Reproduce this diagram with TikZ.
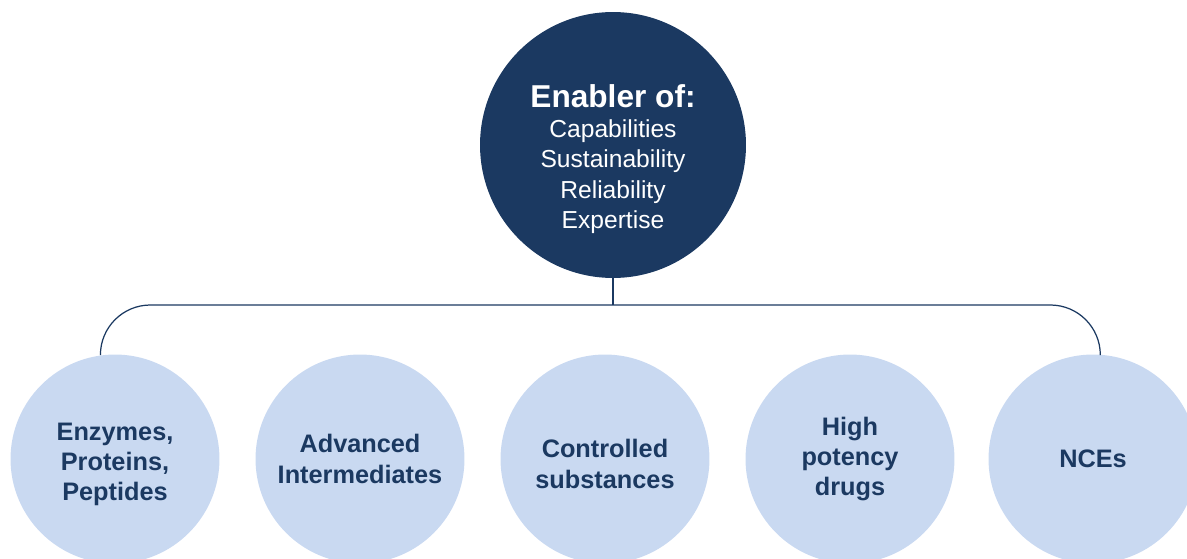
\documentclass[tikz,border=0pt]{standalone}
\usepackage{fontspec}
\setsansfont{Liberation Sans}
\definecolor{navy}{RGB}{27, 57, 97}
\definecolor{paleblue}{RGB}{201, 217, 241}
\newcommand{\toppad}[1]{\rule{0pt}{#1}}

\begin{document}
\begin{tikzpicture}[x=0.02cm, y=-0.02cm, font=\sffamily]
\tikzset{hub/.style={circle, fill=navy, text=white, inner sep=0, minimum size=5.32cm, align=center,
        font=\sffamily\fontsize{14}{17.2}\selectfont},
    leaf/.style={circle, fill=paleblue, text=navy, inner sep=0, minimum size=4.18cm, align=center,
        font=\sffamily\bfseries\fontsize{14.4}{17.3}\selectfont},
    link/.style={navy, line width=0.7pt}}
\useasboundingbox (0, 0) rectangle (1187, 558);

\node[hub] (main) at (613, 145) {\toppad{29pt}{\bfseries\fontsize{18}{20}\selectfont Enabler of:}\\
    Capabilities\\ Sustainability\\ Reliability\\ Expertise};

\node[leaf] (enz) at (115, 459) {\toppad{16pt}Enzymes,\\ Proteins,\\ Peptides};
\node[leaf] (adv) at (360, 459) {Advanced\\ Intermediates};
\node[leaf] (ctrl) at (605, 459) {\toppad{16pt}Controlled\\ substances};
\node[leaf] (hpd) at (850, 459) {High\\ potency\\ drugs};
\node[leaf] (nce) at (1093, 459) {NCEs};

\coordinate (bar) at (613, 305);
\draw[link] (main.south) -- (bar);
\draw[link, rounded corners=1cm] (enz.98) |- (bar) -| (nce.86);
\end{tikzpicture}
\end{document}
